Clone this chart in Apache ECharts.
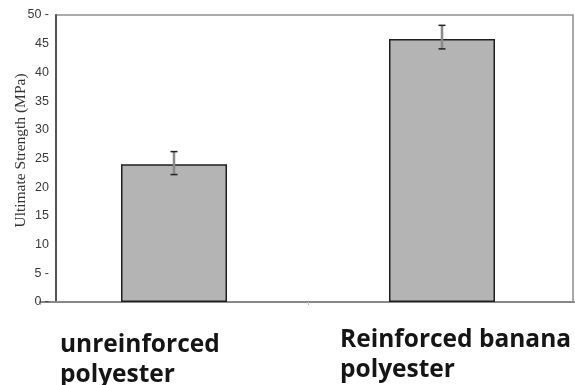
<!DOCTYPE html>
<html>
<head>
<meta charset="utf-8">
<script src="https://cdn.jsdelivr.net/npm/echarts@6/dist/echarts.min.js"></script>
<style>
html,body{margin:0;padding:0;background:#fff;}
#chart{width:575px;height:385px;}
</style>
</head>
<body>
<div id="chart"></div>
<script>
const categories = ['unreinforced\npolyester', 'Reinforced banana\npolyester'];
const strength = [24.0, 45.8];
const errLow = [22.2, 44.1];
const errHigh = [26.2, 48.2];
const yMin = 0, yMax = 50, yStep = 5;
const dashedTicks = [0, 5, 50];

const chart = echarts.init(document.getElementById('chart'), null, {renderer: 'canvas'});

const labelFont = {fontSize: 24.5, fontWeight: 'bold', fontFamily: 'Open Sans', color: '#151515', lineHeight: 30};

const option = {
  animation: false,
  backgroundColor: '#ffffff',
  grid: [
    {left: 56, top: 15, width: 517, height: 287, show: true, borderColor: '#8f8f8f', borderWidth: 1.5, backgroundColor: 'transparent', outerBoundsMode: 'none'},
    {left: 40, top: 15, width: 536, height: 287, outerBoundsMode: 'none'},
    {left: 40, top: 15, width: 560, height: 287, outerBoundsMode: 'none'}
  ],
  xAxis: [
    {gridIndex: 0, type: 'category', data: [''], show: false},
    {gridIndex: 1, type: 'category', data: categories,
      axisLine: {show: true, lineStyle: {color: '#888', width: 2}},
      axisTick: {show: true, length: 3, lineStyle: {color: '#bbb'}},
      axisLabel: {show: false}, splitLine: {show: false}},
    {gridIndex: 2, type: 'category',
      data: categories.map((c, i) => ({value: c, textStyle: i === 0 ? {padding: [5, 0, 0, 0]} : {}})),
      axisLine: {show: false}, axisTick: {show: false}, splitLine: {show: false},
      axisLabel: Object.assign({
        margin: 23, interval: 0,
        formatter: v => v.split('\n').map(s => '{a|' + s + '}').join('\n'),
        rich: {a: Object.assign({width: 240, align: 'left'}, labelFont)}
      }, labelFont)}
  ],
  yAxis: [
    {gridIndex: 0, type: 'value', min: yMin, max: yMax, interval: yStep,
      axisLine: {show: true, lineStyle: {color: '#555', width: 2}},
      axisTick: {show: false}, splitLine: {show: false},
      axisLabel: {fontSize: 12.5, color: '#3a3a3a', margin: 7, fontFamily: 'Liberation Sans',
        formatter: v => dashedTicks.includes(v) ? v + ' -' : String(v)},
      name: 'Ultimate Strength (MPa)', nameLocation: 'middle', nameGap: 27, nameMoveOverlap: false,
      nameTextStyle: {fontFamily: 'Liberation Serif', fontSize: 15.5, color: '#333', padding: [0, 0, 0, 16]}},
    {gridIndex: 1, type: 'value', min: yMin, max: yMax, show: false},
    {gridIndex: 2, type: 'value', min: yMin, max: yMax, show: false}
  ],
  series: [
    {type: 'bar', xAxisIndex: 1, yAxisIndex: 1, data: strength, barWidth: 106,
      itemStyle: {color: '#b4b4b4', borderColor: '#1e1e1e', borderWidth: 1.5}, z: 3},
    {type: 'custom', xAxisIndex: 1, yAxisIndex: 1, z: 10,
      data: categories.map((c, i) => [i, errLow[i], errHigh[i]]),
      renderItem: (params, api) => {
        const lo = api.coord([api.value(0), api.value(1)]);
        const hi = api.coord([api.value(0), api.value(2)]);
        const hw = 3.5;
        return {type: 'group', children: [
          {type: 'line', shape: {x1: hi[0], y1: hi[1], x2: lo[0], y2: lo[1]}, style: {stroke: '#8a8a8a', lineWidth: 2.5}},
          {type: 'line', shape: {x1: hi[0] - hw, y1: hi[1], x2: hi[0] + hw, y2: hi[1]}, style: {stroke: '#222', lineWidth: 1.5}},
          {type: 'line', shape: {x1: lo[0] - hw, y1: lo[1], x2: lo[0] + hw, y2: lo[1]}, style: {stroke: '#222', lineWidth: 1.5}}
        ]};
      }}
  ]
};
chart.setOption(option);
</script>
</body>
</html>
